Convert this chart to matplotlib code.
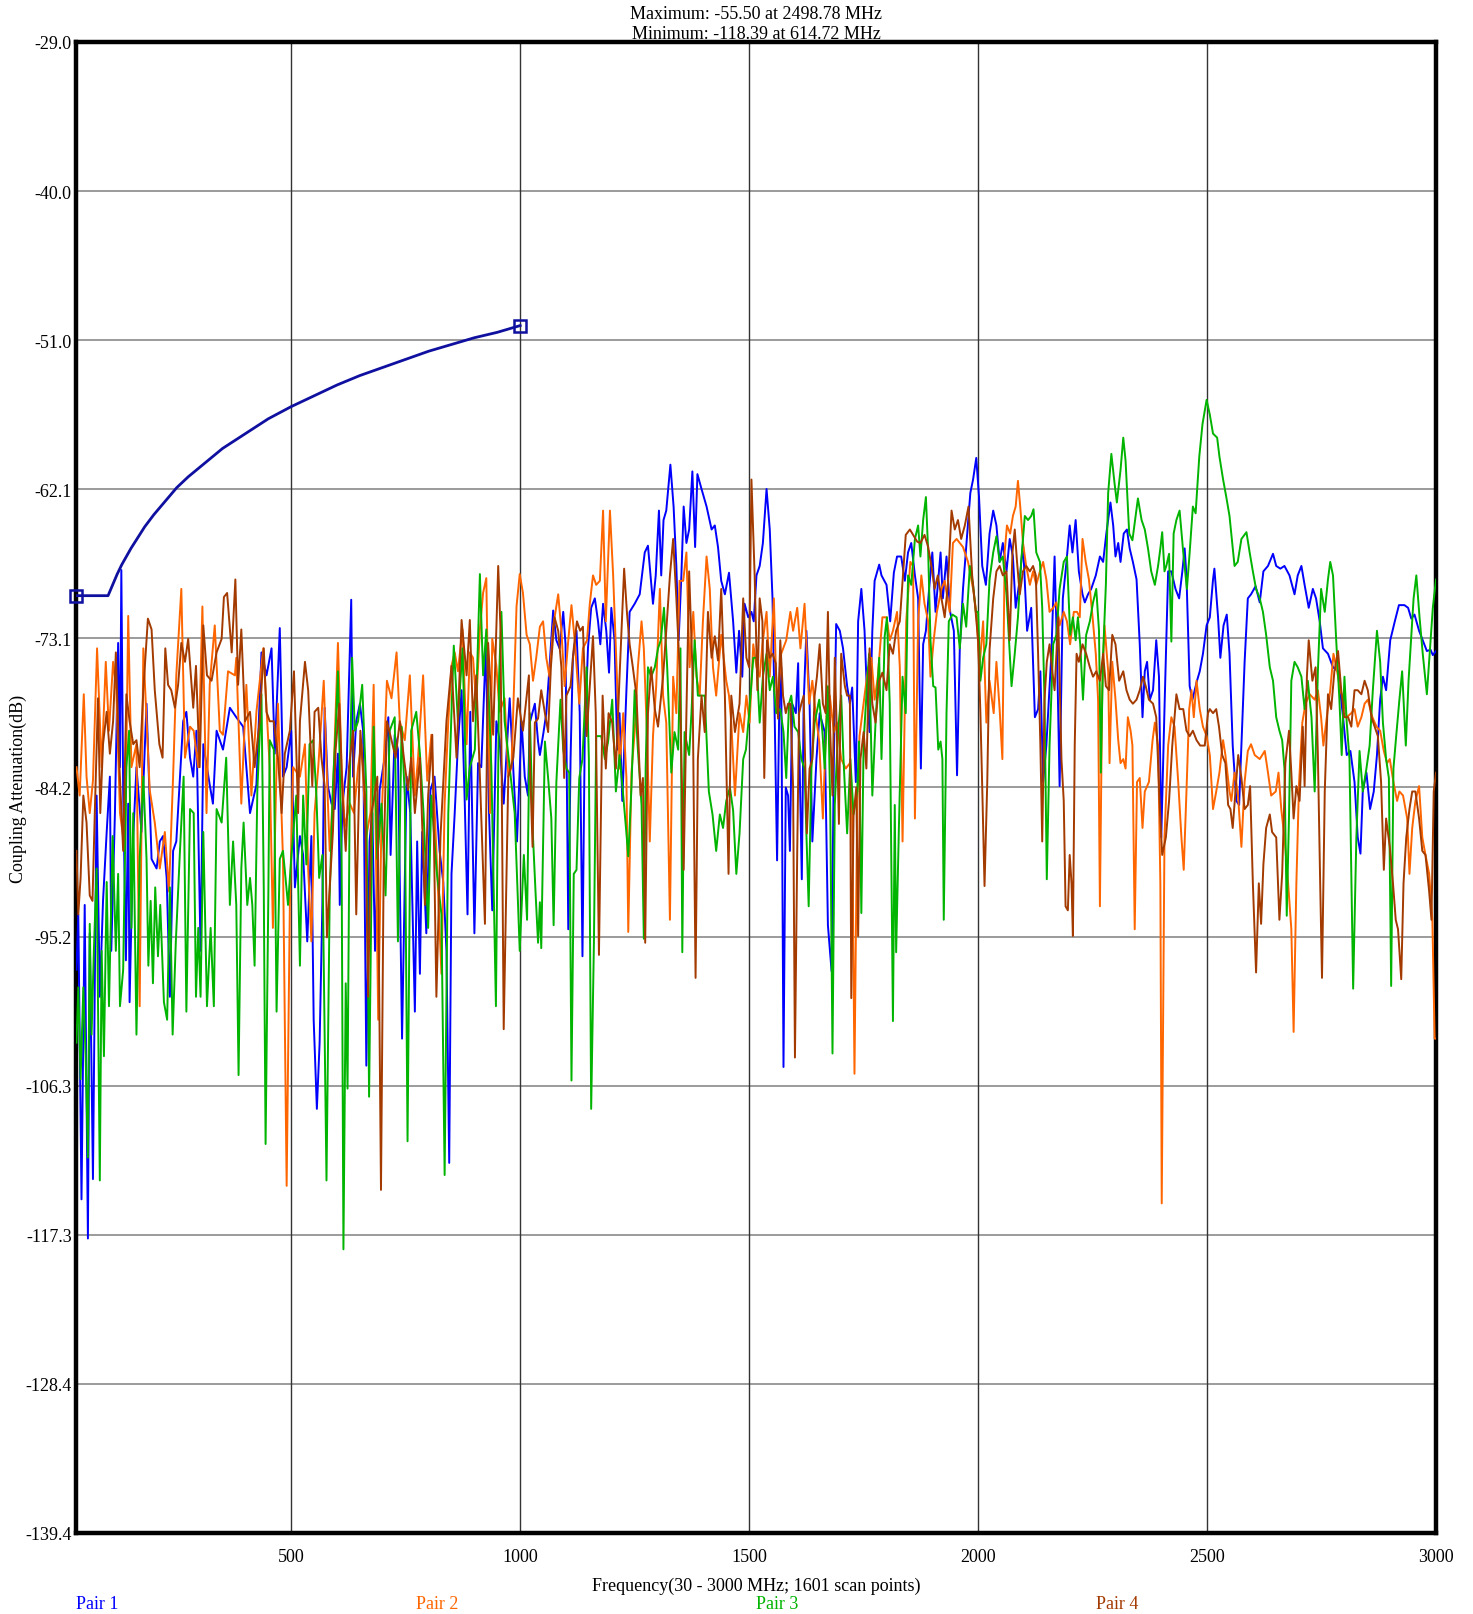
"""Coupling attenuation sweep, pairs 1-4, with limit line"""
import matplotlib
matplotlib.use("Agg")
import matplotlib.pyplot as plt

plt.rcParams["font.family"] = ["Liberation Serif", "DejaVu Serif"]

# Pair 1 (MHz, dB)
freq_p1 = [31, 35, 42, 49, 56, 60, 67, 75, 82, 89, 97, 104, 107, 115, 122, 126, 129, 133, 139, 144,
           147, 155, 162, 173, 184, 195, 206, 213, 220, 228, 235, 242, 249, 264, 271, 279, 286, 293, 302, 308,
           322, 329, 337, 351, 366, 380, 395, 410, 424, 435, 446, 457, 464, 475, 482, 490, 500, 508,
           519, 526, 535, 544, 549, 556, 562, 568, 573, 580, 588, 595, 602, 606, 612, 621, 631, 635, 642, 650,
           657, 664, 671, 677, 683, 693, 704, 712, 717, 726, 733, 742, 752, 760, 770, 775, 781, 786, 795, 804,
           813, 824, 832, 839, 845, 850, 857, 864, 872, 879, 885, 891, 900, 908, 915, 925, 932, 939, 948, 955,
           964, 977, 993, 1003, 1010, 1017,
           1021, 1032, 1039, 1043, 1051, 1057, 1064, 1072, 1079, 1086, 1094, 1099, 1105, 1110, 1115, 1123,
           1130, 1136, 1141, 1148, 1155, 1163, 1170, 1175, 1181, 1188, 1194, 1199, 1206, 1212, 1217, 1223,
           1232, 1239, 1250, 1261, 1272, 1279, 1290, 1296, 1303, 1308, 1313, 1319, 1328, 1335, 1341, 1346,
           1352, 1357, 1363, 1369, 1376, 1382, 1387, 1396, 1407, 1418, 1425, 1432, 1439, 1447, 1456, 1465,
           1472, 1478, 1485, 1490, 1498, 1505, 1510, 1516,
           1523, 1530, 1538, 1545, 1551, 1556, 1561, 1567, 1570, 1575, 1580, 1585, 1589, 1594, 1602, 1607,
           1610, 1615, 1619, 1625, 1632, 1638, 1647, 1654, 1665, 1672, 1680, 1685, 1690, 1698, 1705, 1714,
           1720, 1725, 1733, 1738, 1745, 1752, 1757, 1763, 1769, 1774, 1784, 1789, 1800, 1808, 1816, 1823,
           1832, 1840, 1847, 1854, 1862, 1869, 1875, 1880, 1886, 1893, 1900, 1907, 1912, 1918, 1923, 1931,
           1939, 1947, 1954, 1960, 1967, 1974, 1983, 1989, 1996, 2002, 2009, 2017,
           2025, 2033, 2040, 2047, 2054, 2062, 2069, 2076, 2082, 2091, 2098, 2107, 2116, 2124, 2131, 2136,
           2142, 2149, 2160, 2167, 2172, 2178, 2185, 2193, 2200, 2206, 2213, 2220, 2228, 2233, 2240, 2247,
           2257, 2266, 2273, 2280, 2289, 2295, 2300, 2306, 2311, 2318, 2325, 2331, 2338, 2346, 2353, 2359,
           2364, 2369, 2375, 2382, 2389, 2395, 2400, 2407, 2415, 2422, 2431, 2439, 2446, 2451, 2455, 2462,
           2468, 2473, 2478, 2484, 2491, 2499,
           2506, 2513, 2516, 2524, 2529, 2536, 2543, 2549, 2556, 2564, 2570, 2575, 2582, 2589, 2596, 2606,
           2615, 2623, 2633, 2644, 2651, 2660, 2669, 2680, 2691, 2698, 2706, 2713, 2722, 2731, 2738, 2746,
           2753, 2764, 2775, 2786, 2797, 2805, 2813, 2822, 2829, 2835, 2840, 2848, 2856, 2864, 2871, 2878,
           2884, 2891, 2900, 2910, 2919, 2931, 2939, 2946, 2953, 2963, 2971, 2980, 2988, 2993, 3000]
att_p1 = [-97.7, -93.6, -114.7, -92.9, -117.6, -95.0, -113.2, -84.8, -99.7, -92.6, -87.5, -83.4, -96.3, -86.1, -73.5, -82.7, -68.1, -84.4, -97.0, -85.4,
          -100.1, -87.8, -82.7, -87.5, -78.0, -89.5, -90.2, -88.2, -87.8, -90.9, -99.7, -88.9, -88.2, -79.3, -78.6, -82.0, -83.4, -80.0, -96.3, -81.0,
          -84.0, -85.4, -80.0, -81.4, -78.3, -79.0, -79.7, -86.1, -84.0, -74.2, -75.9, -73.9, -81.7, -72.4, -83.4, -82.7, -80.0, -91.6,
          -87.8, -89.2, -95.6, -87.8, -101.4, -108.0, -103.1, -92.9, -78.3, -84.1, -85.4, -85.8, -81.7, -92.9, -85.4, -82.7, -70.3, -83.4, -79.3, -78.0,
          -80.0, -104.8, -88.2, -86.1, -96.3, -84.4, -82.0, -79.0, -89.2, -80.3, -81.4, -102.8, -83.4, -86.1, -100.8, -88.2, -98.0, -87.5, -95.0, -84.4,
          -83.4, -88.9, -91.2, -96.3, -112.0, -90.6, -86.1, -81.0, -77.0, -85.4, -93.6, -78.6, -95.0, -82.4, -82.7, -73.7, -86.1, -93.3, -79.3, -80.7,
          -85.4, -77.6, -88.2, -79.3, -83.4, -84.8,
          -79.4, -78.0, -80.8, -81.8, -80.1, -78.7, -75.3, -71.1, -73.3, -73.9, -71.2, -73.6, -94.7, -82.1, -74.6, -72.6,
          -78.7, -96.7, -80.4, -73.9, -70.9, -70.2, -71.9, -73.6, -70.6, -72.6, -75.7, -70.9, -73.3, -81.4, -78.7, -85.2,
          -77.0, -71.2, -70.6, -69.9, -66.8, -66.3, -70.6, -68.5, -63.7, -68.5, -64.4, -63.7, -60.3, -63.4, -67.8, -73.3,
          -68.5, -63.4, -66.1, -65.1, -60.8, -66.4, -61.0, -62.1, -63.4, -65.1, -64.8, -66.4, -68.9, -69.9, -68.3, -71.9,
          -75.7, -72.6, -76.0, -70.6, -71.6, -71.2, -71.9, -68.5,
          -67.8, -66.1, -62.1, -65.1, -70.2, -79.4, -89.6, -75.3, -75.3, -104.9, -84.2, -84.8, -88.9, -78.0, -78.7, -75.0,
          -82.1, -91.0, -78.0, -72.6, -78.0, -88.2, -82.1, -78.7, -80.1, -94.4, -97.8, -82.1, -72.1, -72.6, -73.9, -76.7,
          -78.0, -76.8, -83.8, -71.9, -69.5, -72.6, -77.0, -80.1, -72.6, -68.9, -67.7, -68.5, -69.2, -71.9, -68.3, -67.1,
          -67.1, -68.9, -66.8, -66.1, -68.5, -70.2, -82.8, -73.6, -72.6, -69.5, -66.8, -71.2, -69.2, -66.8, -70.2, -67.1,
          -71.2, -72.6, -83.3, -73.9, -69.5, -66.4, -62.4, -61.4, -59.8, -62.7, -67.8, -69.2,
          -65.4, -63.7, -64.8, -67.5, -66.1, -68.2, -65.8, -67.1, -70.9, -68.8, -66.1, -72.6, -70.9, -79.0, -78.4, -75.6,
          -83.8, -81.1, -74.3, -67.1, -73.6, -84.1, -70.2, -67.5, -64.8, -66.8, -64.4, -68.2, -69.9, -70.5, -69.9, -69.5,
          -68.5, -67.1, -67.5, -65.4, -63.1, -64.8, -67.1, -66.1, -67.5, -65.4, -65.1, -66.5, -67.5, -68.8, -73.6, -79.0,
          -75.6, -74.9, -77.7, -77.0, -73.3, -76.0, -87.9, -78.4, -68.2, -68.2, -69.5, -70.2, -68.2, -66.5, -68.5, -76.7,
          -77.7, -77.0, -76.3, -75.6, -74.3, -72.2,
          -71.6, -68.8, -68.0, -71.6, -74.6, -72.2, -71.4, -74.3, -81.1, -85.2, -85.5, -81.1, -74.9, -70.2, -69.9, -69.3,
          -70.5, -68.2, -67.8, -66.9, -67.8, -68.0, -67.8, -68.5, -69.9, -68.5, -67.8, -69.2, -70.9, -69.5, -70.2, -71.9,
          -73.9, -74.3, -75.3, -75.6, -79.0, -81.8, -81.5, -83.8, -87.9, -89.1, -84.5, -83.1, -85.8, -84.5, -81.8, -77.7,
          -76.0, -77.0, -73.3, -71.9, -70.7, -70.7, -70.9, -71.7, -71.4, -72.6, -73.3, -74.1, -74.0, -74.4, -74.1]

# Pair 2
freq_p2 = [31, 38, 47, 53, 60, 67, 76, 86, 95, 102, 111, 118, 126, 137, 144, 151, 162, 169, 177, 191,
           202, 213, 224, 233, 242, 249, 260, 268, 279, 287, 297, 306, 315, 322, 333, 344, 351, 362, 377, 380,
           391, 402, 413, 424, 439, 453, 460, 471, 482, 490, 497, 504,
           519, 530, 537, 544, 551, 559, 571, 578, 584, 591, 602, 610, 617, 628, 637, 646, 653, 664, 673, 680,
           690, 697, 709, 719, 730, 737, 748, 759, 770, 777, 788, 797, 806, 817, 828, 835, 843, 850, 857, 864,
           874, 883, 890, 897, 904, 912, 919, 926, 934, 939, 948, 955, 966, 974, 981, 992, 999, 1006, 1014,
           1021, 1028, 1035, 1043, 1050, 1057, 1064, 1072, 1083, 1090, 1097, 1105, 1112, 1119, 1129, 1137,
           1146, 1152, 1159, 1166, 1174, 1181, 1187, 1196, 1203, 1212, 1217, 1225, 1232, 1236, 1243, 1250,
           1257, 1265, 1270, 1277, 1283, 1290, 1297, 1305, 1312, 1319, 1327, 1334, 1341, 1348, 1356, 1363,
           1370, 1378, 1385, 1392, 1399, 1407, 1414, 1421, 1428, 1439, 1450, 1456, 1461, 1469, 1479, 1487,
           1494, 1501, 1509, 1516,
           1523, 1529, 1538, 1545, 1554, 1561, 1570, 1581, 1590, 1596, 1605, 1612, 1621, 1631, 1638, 1645,
           1653, 1661, 1669, 1676, 1685, 1692, 1701, 1711, 1720, 1725, 1730, 1736, 1741, 1752, 1760, 1767,
           1774, 1781, 1791, 1800, 1807, 1814, 1823, 1829, 1835, 1843, 1852, 1858, 1862, 1869, 1876, 1883,
           1891, 1896, 1903, 1910, 1920, 1927, 1938, 1945, 1953, 1960, 1967, 1978, 1989, 1996, 2003, 2011,
           2018,
           2025, 2034, 2040, 2047, 2053, 2058, 2063, 2070, 2076, 2082, 2087, 2092, 2098, 2105, 2113, 2120,
           2127, 2135, 2142, 2149, 2156, 2164, 2171, 2178, 2187, 2194, 2201, 2209, 2216, 2222, 2228, 2235,
           2242, 2250, 2257, 2262, 2266, 2271, 2276, 2284, 2287, 2293, 2300, 2306, 2311, 2317, 2322, 2327,
           2333, 2337, 2342, 2347, 2353, 2359, 2364, 2373, 2381, 2386, 2393, 2398, 2401, 2407, 2415, 2422,
           2429, 2437, 2444, 2449, 2455, 2461, 2466, 2471, 2477, 2484, 2491, 2499,
           2506, 2513, 2520, 2527, 2535, 2540, 2549, 2553, 2560, 2567, 2575, 2582, 2589, 2596, 2604, 2615,
           2626, 2633, 2640, 2650, 2656, 2662, 2669, 2677, 2684, 2689, 2695, 2701, 2708, 2715, 2724, 2735,
           2742, 2749, 2754, 2760, 2769, 2776, 2784, 2791, 2798, 2805, 2815, 2822, 2829, 2837, 2844, 2851,
           2861, 2870, 2878, 2886, 2893, 2899, 2907, 2915, 2920, 2928, 2937, 2942, 2948, 2955, 2963, 2970,
           2977, 2985, 2992, 2997, 3000]
att_p2 = [-82.7, -84.8, -77.3, -83.4, -86.1, -83.7, -73.9, -82.7, -74.9, -80.0, -74.9, -77.0, -86.1, -88.9, -71.5, -82.7, -81.0, -100.4, -73.9, -84.4,
          -86.8, -90.2, -87.5, -91.9, -83.4, -75.9, -69.5, -82.0, -79.7, -80.0, -82.7, -70.8, -86.1, -76.6, -72.2, -80.0, -80.3, -75.6, -75.9, -74.6,
          -85.4, -76.6, -84.8, -78.6, -73.9, -82.7, -94.6, -78.0, -89.5, -113.7, -92.9, -82.7,
          -83.4, -81.0, -90.2, -95.6, -86.1, -82.7, -76.3, -83.4, -88.9, -84.8, -73.5, -82.7, -87.1, -85.4, -86.1, -82.7, -81.0, -87.8, -86.1, -76.6,
          -101.4, -86.8, -76.3, -77.6, -74.2, -79.3, -80.7, -75.9, -84.8, -82.0, -75.9, -83.7, -80.3, -88.9, -98.0, -85.4, -79.3, -75.2, -74.2, -75.6,
          -72.5, -81.0, -74.2, -74.6, -78.0, -72.5, -69.8, -68.7, -86.1, -73.2, -75.2, -78.6, -77.6, -83.4, -82.7, -70.8, -68.4, -69.8, -72.9,
          -73.6, -76.3, -74.6, -72.3, -71.9, -74.6, -76.0, -72.3, -69.9, -72.6, -76.7, -73.3, -70.7, -73.3, -78.0, -73.9,
          -73.3, -70.6, -68.5, -69.2, -68.9, -63.7, -71.9, -63.7, -68.5, -76.7, -82.8, -78.7, -83.5, -94.9, -83.1, -80.1,
          -75.3, -71.9, -73.9, -80.4, -88.2, -80.4, -76.7, -69.5, -77.4, -79.4, -94.0, -76.0, -78.7, -68.9, -68.9, -66.8,
          -75.3, -71.2, -76.0, -77.4, -71.9, -67.1, -69.5, -75.3, -77.4, -72.9, -76.3, -77.4, -79.4, -84.8, -78.7, -80.1,
          -77.4, -79.4, -73.6, -75.3,
          -76.0, -73.6, -71.2, -76.0, -70.2, -78.7, -74.3, -73.3, -71.2, -72.6, -70.9, -73.9, -70.6, -78.0, -76.3, -78.7,
          -80.8, -86.5, -78.7, -77.4, -80.1, -79.4, -82.1, -82.8, -82.4, -86.2, -105.4, -85.5, -80.4, -77.4, -75.3, -74.6,
          -77.7, -76.0, -71.6, -71.6, -73.3, -72.6, -71.2, -75.3, -88.2, -71.9, -67.5, -67.8, -86.5, -71.9, -68.5, -70.6,
          -71.9, -76.0, -73.3, -71.2, -69.5, -68.9, -71.2, -66.1, -65.8, -66.1, -66.4, -67.5, -69.5, -71.2, -75.3, -71.9,
          -79.4,
          -76.3, -78.7, -74.9, -78.4, -82.1, -66.8, -64.8, -65.4, -64.1, -63.4, -61.5, -63.4, -66.1, -67.8, -69.2, -68.2,
          -69.2, -68.2, -67.5, -68.8, -71.2, -70.9, -70.5, -72.2, -71.2, -71.9, -73.6, -71.2, -71.2, -71.6, -65.8, -67.5,
          -68.8, -71.6, -74.3, -77.7, -93.0, -77.0, -72.2, -75.6, -82.4, -74.9, -77.7, -80.7, -82.4, -82.1, -82.8, -79.0,
          -80.0, -81.1, -94.7, -83.8, -83.5, -87.2, -84.5, -83.8, -80.7, -79.4, -81.1, -91.3, -115.0, -87.9, -81.1, -79.0,
          -79.7, -83.8, -87.9, -90.3, -84.5, -78.4, -77.0, -79.0, -76.3, -78.4, -79.7, -80.4,
          -81.8, -85.8, -84.5, -83.1, -80.7, -81.8, -84.5, -85.2, -83.1, -84.5, -88.6, -83.8, -81.5, -81.0, -81.8, -82.1,
          -81.5, -83.1, -84.8, -84.5, -83.1, -85.8, -87.9, -91.3, -94.7, -102.3, -91.3, -83.8, -79.4, -78.0, -77.3, -77.7,
          -77.0, -79.0, -81.1, -79.4, -77.0, -74.3, -75.6, -77.0, -77.7, -79.0, -78.7, -78.4, -79.7, -79.0, -78.0, -77.7,
          -79.0, -79.7, -80.0, -81.5, -82.4, -82.1, -83.8, -85.2, -84.5, -84.8, -86.5, -90.6, -87.2, -85.2, -84.1, -87.9,
          -89.2, -90.6, -94.0, -102.8, -102.8]

# Pair 3
freq_p3 = [31, 35, 40, 46, 51, 56, 60, 64, 69, 75, 82, 86, 91, 97, 102, 110, 117, 122, 126, 133,
           140, 146, 151, 155, 162, 169, 177, 184, 188, 193, 198, 203, 209, 214, 222, 229, 235, 241, 248, 257,
           265, 271, 279, 287, 292, 297, 302, 308, 316, 324, 331, 337, 348, 358, 366, 373, 380, 385, 391, 396,
           404, 410, 415, 420, 426, 435, 440, 444, 450, 453, 462, 468, 475, 482, 493, 500, 511,
           519, 526, 533, 540, 548, 555, 561, 568, 577, 584, 591, 597, 602, 610, 614, 619, 623, 628, 633, 639,
           646, 655, 664, 670, 676, 680, 688, 697, 706, 715, 726, 733, 741, 748, 754, 762, 773, 781, 789, 799,
           806, 817, 828, 835, 843, 850, 855, 864, 874, 883, 890, 901, 912, 919, 926, 937, 947, 954, 959, 966,
           977, 988, 999, 1008, 1015,
           1021, 1028, 1034, 1039, 1043, 1046, 1054, 1061, 1068, 1073, 1079, 1088, 1094, 1101, 1107, 1112,
           1117, 1123, 1129, 1136, 1145, 1150, 1155, 1161, 1166, 1177, 1185, 1192, 1201, 1209, 1217, 1225,
           1232, 1236, 1243, 1250, 1257, 1265, 1270, 1274, 1279, 1286, 1294, 1301, 1307, 1314, 1321, 1330,
           1337, 1345, 1350, 1354, 1359, 1369, 1374, 1381, 1388, 1396, 1403, 1412, 1420, 1428, 1436, 1443,
           1450, 1458, 1465, 1472, 1479, 1487, 1493, 1500, 1509, 1516,
           1523, 1530, 1538, 1545, 1552, 1559, 1568, 1575, 1581, 1587, 1592, 1599, 1607, 1614, 1621, 1625,
           1630, 1636, 1643, 1653, 1660, 1665, 1672, 1677, 1682, 1687, 1694, 1701, 1706, 1714, 1721, 1728,
           1736, 1740, 1745, 1750, 1756, 1762, 1769, 1776, 1784, 1789, 1796, 1801, 1807, 1814, 1818, 1821,
           1827, 1835, 1842, 1847, 1854, 1862, 1869, 1874, 1880, 1886, 1891, 1896, 1902, 1907, 1913, 1918,
           1922, 1925, 1931, 1936, 1944, 1953, 1960, 1967, 1974, 1982, 1989, 1995, 2000, 2005, 2011, 2018,
           2025, 2033, 2040, 2047, 2054, 2062, 2068, 2073, 2080, 2087, 2094, 2102, 2109, 2116, 2121, 2127,
           2135, 2140, 2145, 2150, 2156, 2164, 2171, 2178, 2187, 2194, 2201, 2207, 2213, 2218, 2223, 2229,
           2236, 2244, 2251, 2258, 2264, 2268, 2273, 2279, 2284, 2291, 2298, 2303, 2311, 2317, 2322, 2330,
           2337, 2344, 2349, 2357, 2364, 2371, 2378, 2386, 2393, 2398, 2402, 2407, 2411, 2417, 2422, 2427,
           2433, 2440, 2448, 2456, 2462, 2469, 2475, 2483, 2490, 2499,
           2506, 2513, 2522, 2527, 2535, 2542, 2549, 2555, 2560, 2567, 2575, 2586, 2593, 2600, 2607, 2615,
           2622, 2629, 2637, 2644, 2651, 2658, 2664, 2669, 2674, 2679, 2684, 2691, 2698, 2706, 2713, 2720,
           2728, 2735, 2742, 2749, 2757, 2764, 2769, 2775, 2782, 2789, 2794, 2800, 2805, 2811, 2819, 2826,
           2833, 2840, 2848, 2855, 2862, 2871, 2878, 2884, 2891, 2897, 2902, 2907, 2913, 2920, 2926, 2934,
           2940, 2946, 2951, 2957, 2964, 2971, 2980, 2986, 2993, 3000]
att_p3 = [-103.1, -99.0, -105.8, -99.0, -104.1, -111.6, -94.3, -102.5, -96.3, -90.2, -113.3, -96.3, -104.1, -91.2, -100.4, -87.8, -96.3, -90.6, -100.4, -97.7,
          -82.7, -80.0, -94.6, -86.1, -102.5, -89.5, -83.4, -89.5, -97.4, -92.6, -98.7, -91.6, -96.7, -92.9, -100.1, -101.4, -91.6, -102.5, -95.6, -88.9,
          -83.4, -100.8, -85.8, -86.1, -99.7, -94.6, -99.7, -87.5, -100.4, -94.6, -100.4, -85.8, -86.8, -82.0, -92.9, -88.2, -92.9, -105.5, -90.2, -86.8,
          -92.9, -90.9, -92.9, -97.4, -84.4, -77.3, -91.6, -110.6, -92.2, -80.7, -81.4, -100.8, -89.5, -88.9, -92.9, -89.5, -84.8,
          -97.4, -84.8, -89.9, -81.0, -80.7, -84.8, -90.9, -89.2, -113.3, -92.2, -84.1, -80.0, -75.6, -89.5, -118.4, -98.7, -106.5, -83.4, -74.6, -80.0,
          -79.3, -76.6, -84.4, -107.1, -89.5, -79.7, -89.5, -85.4, -92.2, -80.0, -79.0, -95.6, -79.7, -84.8, -110.4, -80.0, -78.6, -81.7, -86.1, -94.6,
          -84.8, -90.2, -93.6, -112.9, -86.1, -78.6, -73.7, -79.3, -73.9, -85.1, -82.7, -81.4, -68.4, -75.9, -72.5, -82.7, -100.4, -75.9, -71.2, -79.3,
          -82.7, -86.1, -96.3, -89.2, -94.0,
          -78.7, -87.9, -92.3, -95.7, -92.7, -96.1, -80.8, -83.5, -86.5, -94.4, -83.8, -77.7, -81.4, -82.8, -83.1, -105.9,
          -90.6, -90.3, -83.5, -82.1, -75.3, -82.1, -108.0, -95.7, -80.4, -80.4, -82.1, -80.8, -77.7, -84.5, -81.8, -84.8,
          -87.6, -89.3, -84.2, -77.0, -81.4, -85.5, -95.4, -82.8, -75.3, -76.0, -75.3, -73.9, -73.3, -70.9, -75.3, -83.1,
          -80.1, -81.4, -73.9, -96.4, -80.1, -81.8, -78.7, -73.3, -77.4, -77.4, -77.4, -84.5, -86.2, -88.9, -86.2, -87.2,
          -85.2, -84.2, -85.9, -90.6, -87.6, -82.1, -81.4, -78.7, -74.6, -74.6,
          -79.4, -76.0, -74.3, -77.0, -76.0, -78.7, -78.4, -80.1, -83.5, -78.0, -77.4, -79.7, -80.1, -82.1, -82.8, -87.6,
          -93.0, -82.8, -79.4, -77.7, -80.1, -82.8, -76.7, -85.5, -103.9, -85.5, -80.1, -77.4, -82.1, -87.6, -82.1, -86.2,
          -84.5, -80.8, -93.5, -80.8, -77.4, -74.3, -84.8, -79.4, -74.6, -82.1, -73.0, -71.6, -78.0, -101.5, -85.5, -96.4,
          -87.2, -76.0, -78.7, -68.5, -69.2, -65.8, -64.8, -67.1, -64.4, -62.7, -66.8, -73.3, -76.7, -76.8, -81.4, -80.8,
          -82.1, -94.0, -78.7, -71.9, -71.4, -71.6, -73.9, -70.6, -72.3, -67.8, -69.2, -71.2, -71.2, -76.3, -74.6, -73.6,
          -68.8, -66.8, -65.6, -67.5, -67.1, -69.9, -73.6, -76.7, -74.3, -71.6, -67.5, -64.1, -64.4, -64.1, -63.6, -66.8,
          -67.5, -70.9, -77.7, -91.0, -81.1, -73.6, -72.9, -69.5, -67.5, -67.1, -72.9, -71.6, -73.3, -71.6, -73.6, -77.7,
          -72.9, -71.9, -70.5, -69.5, -72.6, -83.1, -74.3, -69.2, -62.4, -59.5, -61.7, -63.1, -60.7, -58.3, -60.0, -65.4,
          -65.9, -64.1, -62.8, -64.4, -65.1, -66.5, -68.2, -69.2, -67.8, -66.5, -65.3, -68.2, -67.8, -66.9, -73.4, -65.4,
          -64.4, -63.7, -66.8, -69.5, -66.8, -63.4, -63.9, -59.7, -57.3, -55.5,
          -56.6, -58.0, -58.3, -59.7, -61.4, -62.7, -64.1, -66.1, -67.8, -67.5, -65.8, -65.3, -66.8, -68.2, -69.5, -70.2,
          -71.2, -72.9, -75.3, -76.3, -79.0, -80.0, -80.7, -82.8, -93.7, -86.2, -76.3, -74.9, -75.3, -76.0, -78.4, -76.3,
          -79.0, -84.5, -75.6, -69.5, -71.2, -68.8, -67.5, -68.5, -73.3, -77.7, -81.8, -76.0, -79.4, -82.1, -99.1, -87.9,
          -81.5, -84.5, -82.8, -81.1, -77.0, -72.6, -74.9, -79.4, -82.1, -83.5, -98.9, -82.8, -80.4, -77.7, -75.6, -81.1,
          -76.3, -72.9, -70.2, -68.5, -71.6, -74.3, -77.3, -74.3, -70.9, -68.8]

# Pair 4
freq_p4 = [31, 35, 40, 46, 53, 60, 66, 71, 78, 83, 89, 97, 104, 111, 117, 124, 133, 140, 147, 155,
           162, 169, 177, 187, 195, 202, 212, 219, 225, 231, 238, 246, 253, 260, 268, 275, 286, 292, 300, 308,
           316, 326, 337, 348, 353, 360, 370, 378, 384, 391, 399, 410, 420, 431, 440, 446, 453, 462, 471, 479,
           486, 497, 506, 515,
           519, 530, 537, 546, 551, 559, 566, 573, 578, 584, 591, 597, 605, 612, 619, 626, 635, 642, 651, 661,
           668, 675, 682, 688, 696, 702, 709, 719, 728, 737, 746, 755, 762, 770, 781, 792, 799, 808, 817, 826,
           839, 850, 861, 872, 883, 890, 897, 904, 912, 923, 930, 941, 952, 957, 964, 974, 985, 995, 1006, 1019,
           1021, 1027, 1032, 1039, 1046, 1054, 1061, 1067, 1075, 1083, 1090, 1096, 1101, 1110, 1117, 1124,
           1131, 1137, 1145, 1152, 1159, 1165, 1172, 1180, 1187, 1193, 1201, 1209, 1217, 1227, 1233, 1239,
           1246, 1254, 1263, 1268, 1273, 1279, 1286, 1294, 1301, 1312, 1319, 1327, 1334, 1341, 1348, 1357,
           1363, 1369, 1376, 1383, 1388, 1396, 1403, 1410, 1418, 1425, 1432, 1439, 1447, 1455, 1461, 1469,
           1479, 1487, 1494, 1500, 1505, 1512, 1518,
           1523, 1529, 1533, 1539, 1545, 1551, 1558, 1563, 1568, 1574, 1580, 1585, 1590, 1596, 1600, 1605,
           1609, 1614, 1619, 1626, 1632, 1638, 1643, 1648, 1654, 1661, 1667, 1672, 1677, 1682, 1687, 1692,
           1696, 1701, 1709, 1714, 1720, 1723, 1728, 1734, 1738, 1743, 1750, 1756, 1763, 1769, 1776, 1784,
           1791, 1800, 1807, 1814, 1821, 1829, 1836, 1842, 1851, 1858, 1867, 1874, 1883, 1891, 1898, 1905,
           1912, 1920, 1927, 1934, 1942, 1949, 1956, 1963, 1971, 1979, 1987, 1993, 2000, 2005, 2009, 2014,
           2020,
           2025, 2033, 2040, 2047, 2054, 2062, 2069, 2075, 2080, 2085, 2091, 2098, 2105, 2113, 2120, 2126,
           2131, 2136, 2140, 2145, 2150, 2156, 2162, 2167, 2175, 2182, 2187, 2191, 2196, 2200, 2204, 2207,
           2211, 2215, 2220, 2228, 2236, 2244, 2251, 2258, 2266, 2273, 2279, 2286, 2293, 2300, 2308, 2317,
           2324, 2331, 2338, 2346, 2353, 2360, 2366, 2373, 2382, 2389, 2397, 2402, 2410, 2417, 2424, 2433,
           2440, 2448, 2455, 2462, 2469, 2477, 2485, 2495, 2502,
           2506, 2513, 2520, 2526, 2533, 2540, 2546, 2551, 2556, 2562, 2568, 2575, 2582, 2589, 2594, 2600,
           2607, 2613, 2618, 2623, 2629, 2637, 2642, 2651, 2658, 2664, 2671, 2679, 2684, 2689, 2695, 2702,
           2709, 2713, 2718, 2722, 2730, 2737, 2742, 2747, 2751, 2757, 2764, 2771, 2778, 2786, 2793, 2800,
           2808, 2815, 2822, 2829, 2837, 2844, 2851, 2859, 2866, 2873, 2880, 2886, 2891, 2899, 2906, 2912,
           2917, 2924, 2929, 2935, 2942, 2948, 2955, 2963, 2970, 2977, 2985, 2990, 2995, 3000]
att_p4 = [-88.9, -93.6, -90.9, -84.8, -86.8, -92.2, -92.6, -86.1, -77.6, -86.1, -81.0, -78.6, -81.7, -79.3, -74.2, -82.0, -88.9, -77.3, -79.3, -81.0,
          -80.7, -82.7, -77.0, -71.7, -72.5, -77.0, -81.0, -82.0, -73.9, -76.6, -77.0, -78.3, -76.6, -73.5, -74.9, -73.2, -78.3, -75.2, -82.7, -72.2,
          -75.9, -76.3, -74.2, -73.2, -70.1, -69.8, -74.2, -68.8, -76.6, -72.5, -79.3, -78.6, -82.7, -79.3, -73.9, -78.6, -79.3, -79.3, -82.0, -86.1,
          -81.7, -80.0, -75.6, -86.1,
          -79.3, -74.9, -77.0, -84.1, -78.6, -78.3, -82.0, -84.1, -95.3, -91.6, -87.5, -81.4, -78.0, -84.8, -88.9, -82.7, -80.0, -93.6, -80.0, -84.8,
          -99.7, -86.1, -84.8, -83.4, -114.0, -89.5, -79.3, -80.7, -82.0, -79.3, -82.0, -84.4, -82.0, -86.1, -82.0, -92.9, -84.8, -80.3, -99.7, -87.8,
          -79.3, -75.2, -82.0, -71.8, -75.9, -71.8, -79.3, -75.9, -83.4, -94.3, -73.5, -80.3, -67.8, -72.5, -102.1, -83.4, -82.0, -77.6, -80.0, -75.9,
          -82.1, -88.6, -79.4, -79.1, -77.0, -78.7, -80.1, -75.3, -71.6, -72.6, -75.3, -83.5, -77.4, -76.7, -73.9, -71.9,
          -72.6, -72.3, -80.4, -76.7, -73.0, -78.7, -96.6, -77.4, -82.8, -78.7, -79.4, -82.8, -76.0, -68.0, -71.2, -73.6,
          -75.3, -77.4, -84.8, -83.5, -95.7, -78.7, -75.3, -78.4, -79.7, -76.0, -72.6, -68.5, -65.8, -70.2, -75.3, -90.3,
          -78.7, -68.2, -75.3, -98.3, -82.1, -77.4, -80.1, -71.2, -74.6, -73.0, -74.8, -69.5, -77.4, -90.6, -77.4, -80.1,
          -78.0, -70.2, -74.6, -75.3, -61.4, -68.5, -77.0,
          -70.2, -71.9, -83.5, -73.3, -74.6, -74.3, -75.0, -79.1, -73.3, -77.4, -78.7, -78.0, -78.0, -84.2, -104.2, -88.9,
          -78.7, -78.0, -77.4, -87.6, -82.8, -82.1, -77.4, -76.0, -73.6, -78.0, -78.7, -71.2, -80.1, -84.8, -74.6, -80.8,
          -86.9, -74.3, -76.7, -77.4, -77.4, -99.8, -86.2, -84.2, -95.2, -82.1, -80.1, -82.8, -73.9, -78.0, -79.4, -76.3,
          -75.7, -77.0, -73.6, -74.3, -72.6, -71.9, -68.5, -65.5, -65.1, -65.5, -66.0, -66.1, -65.5, -66.4, -67.8, -69.5,
          -68.5, -70.2, -71.6, -69.2, -63.7, -65.1, -64.4, -65.8, -64.8, -63.4, -68.5, -70.6, -73.3, -78.7, -84.2, -91.5,
          -83.8,
          -74.0, -70.2, -68.2, -67.8, -68.5, -68.2, -73.3, -66.8, -65.1, -67.5, -69.9, -68.2, -67.8, -68.2, -67.8, -68.5,
          -74.3, -81.1, -88.2, -77.7, -74.9, -73.6, -75.6, -77.0, -71.6, -82.1, -85.2, -93.0, -93.3, -89.2, -91.3, -95.2,
          -81.1, -74.3, -74.9, -73.6, -74.3, -75.3, -76.0, -75.6, -76.3, -74.3, -76.7, -77.0, -72.9, -73.6, -76.3, -75.6,
          -77.0, -77.7, -78.0, -77.7, -77.0, -76.0, -76.7, -77.7, -78.0, -79.0, -85.8, -89.2, -87.9, -85.2, -81.1, -77.3,
          -78.4, -78.4, -80.0, -80.4, -80.0, -80.7, -81.1, -81.1, -78.7,
          -78.4, -78.7, -78.4, -79.7, -81.8, -82.4, -85.5, -85.8, -87.2, -84.5, -81.8, -83.5, -85.8, -85.5, -84.1, -91.3,
          -97.9, -91.3, -94.3, -89.9, -87.2, -86.2, -87.5, -87.9, -94.0, -90.6, -82.4, -80.0, -83.1, -86.5, -84.1, -85.2,
          -79.7, -84.1, -76.0, -73.3, -76.3, -75.3, -81.8, -91.3, -98.3, -84.5, -77.3, -78.4, -75.6, -74.1, -77.0, -79.0,
          -79.0, -79.7, -77.0, -77.0, -77.3, -76.3, -77.0, -79.0, -79.7, -80.4, -83.8, -90.3, -86.5, -88.6, -91.3, -94.0,
          -94.7, -98.4, -91.3, -87.9, -85.8, -84.5, -84.5, -86.5, -88.9, -89.2, -91.9, -94.0, -84.5, -83.1]

# limit line
limit_freq = [30, 100, 105, 110, 120, 130, 140, 150, 165, 180, 200, 225, 250, 275, 300, 350, 400, 450,
              500, 550, 600, 650, 700, 750, 800, 850, 900, 950, 1000]
limit_att = [-70.0, -70.0, -69.6, -69.2, -68.4, -67.7, -67.1, -66.5, -65.7, -64.9, -64.0, -63.0, -62.0,
             -61.2, -60.5, -59.1, -58.0, -56.9, -56.0, -55.2, -54.4, -53.7, -53.1, -52.5, -51.9, -51.4,
             -50.9, -50.5, -50.0]

y_ticks = [-29.0, -40.04, -51.08, -62.12, -73.16, -84.2, -95.24, -106.28, -117.32, -128.36, -139.4]
y_tick_labels = ["-29.0", "-40.0", "-51.0", "-62.1", "-73.1", "-84.2", "-95.2", "-106.3", "-117.3", "-128.4", "-139.4"]
x_ticks = [500, 1000, 1500, 2000, 2500, 3000]

series = [
    ("Pair 1", freq_p1, att_p1, "#0000ff"),
    ("Pair 2", freq_p2, att_p2, "#ff6600"),
    ("Pair 3", freq_p3, att_p3, "#00b400"),
    ("Pair 4", freq_p4, att_p4, "#a33a00"),
]

fig = plt.figure(figsize=(14.73, 16.15), dpi=100)
ax = fig.add_axes([0.0516, 0.0502, 0.9233, 0.9232])

for name, f, a, c in series:
    ax.plot(f, a, color=c, lw=1.4, zorder=3)

ax.plot(limit_freq, limit_att, color="#1010a0", lw=2.0, zorder=4)
ax.plot([limit_freq[0], limit_freq[-1]], [limit_att[0], limit_att[-1]], ls="none",
        marker="s", ms=9, mfc="none", mec="#1010a0", mew=1.8, zorder=5, clip_on=False)

ax.set_xlim(30, 3000)
ax.set_ylim(-139.4, -29.0)
ax.set_yticks(y_ticks)
ax.set_yticklabels(y_tick_labels)
ax.set_xticks(x_ticks)
ax.tick_params(axis="both", length=0, labelsize=13)
ax.tick_params(axis="y", pad=3)
ax.tick_params(axis="x", pad=11)

# horizontal grid gray, vertical grid dark
for y in y_ticks[1:-1]:
    ax.axhline(y, color="#808080", lw=1.1, zorder=1)
for x in x_ticks[:-1]:
    ax.axvline(x, color="#333333", lw=1.0, zorder=1)

for s in ax.spines.values():
    s.set_linewidth(3.2)
    s.set_color("black")

ax.set_ylabel("Coupling Attenuation(dB)", fontsize=13, labelpad=-1)

cx = 0.0516 + 0.9233 / 2
fig.text(cx, 0.9882, "Maximum: -55.50 at 2498.78 MHz", ha="center", va="baseline", fontsize=13)
fig.text(cx, 0.9759, "Minimum: -118.39 at 614.72 MHz", ha="center", va="baseline", fontsize=13)
fig.text(cx, 0.0180, "Frequency(30 - 3000 MHz; 1601 scan points)", ha="center", va="center", fontsize=13)

for i, (name, f, a, c) in enumerate(series):
    fig.text(0.0516 + i * 0.2308, 0.0035, name, color=c, ha="left", va="baseline", fontsize=13)

fig.savefig("out.png", dpi=100, facecolor="white")
